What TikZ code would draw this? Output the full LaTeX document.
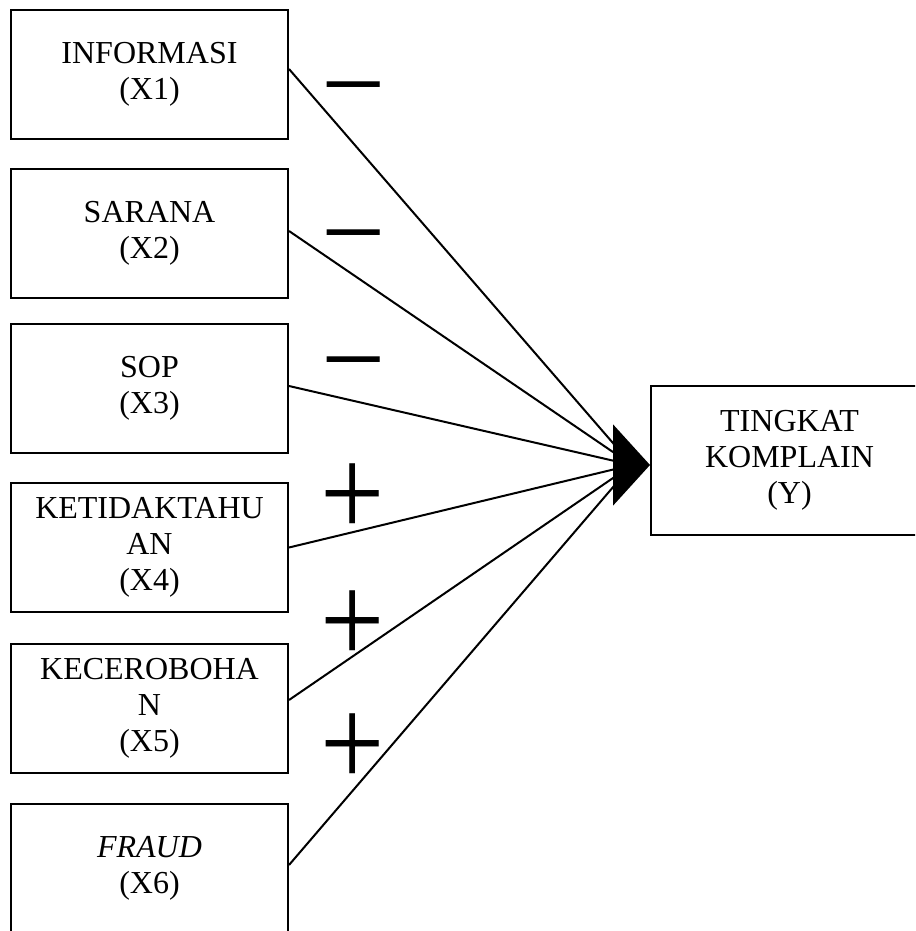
\documentclass[tikz,border=0pt]{standalone}
\usepackage{fontspec}
\setmainfont{Liberation Serif}
\usetikzlibrary{arrows.meta}
\begin{document}
\begin{tikzpicture}[x=1pt, y=-1pt,
  var/.style={draw, line width=2pt, minimum width=277pt, minimum height=129pt,
    align=center, inner sep=0pt, font=\fontsize{32}{36}\selectfont},
  sign/.style={inner sep=0pt, anchor=base, font=\fontsize{114}{114}\selectfont},
  link/.style={line width=2pt}]
\clip (0,0) rectangle (915,931);
% variabel bebas
\node[var] (x1) at (149.5,74.5) {INFORMASI\\(X1)};
\node[var] (x2) at (149.5,233.5) {SARANA\\(X2)};
\node[var] (x3) at (149.5,388.5) {SOP\\(X3)};
\node[var] (x4) at (149.5,547.5) {KETIDAKTAHU\\AN\\(X4)};
\node[var] (x5) at (149.5,708.5) {KECEROBOHA\\N\\(X5)};
\node[var] (x6) at (149.5,868.5) {\textit{FRAUD}\\(X6)};
% variabel terikat
\node[var, minimum height=149pt] (y) at (789.5,460.5) {TINGKAT\\KOMPLAIN\\(Y)};
\coordinate (hub) at (632,465);
\coordinate (back) at (614,465);
\foreach \v/\dy in {x1/5.5, x2/2.5, x3/2.5, x4/0, x5/8.5, x6/3.5}
  \draw[link] ([yshift=\dy pt]\v.east) -- (hub);
\draw[link, -{Triangle[length=37pt, width=81pt]}] (back) -- (back -| y.west);
% tanda pengaruh
\node[sign] (s1) at (354,122) {−};
\node[sign] (s2) at (354,270.5) {−};
\node[sign] (s3) at (354,397.5) {−};
\node[sign] (s4) at (353,536.5) {\scalebox{1}[1.13]{+}};
\node[sign] (s5) at (353,663) {\scalebox{1}[1.13]{+}};
\node[sign] (s6) at (353,786) {\scalebox{1}[1.13]{+}};
\end{tikzpicture}
\end{document}
